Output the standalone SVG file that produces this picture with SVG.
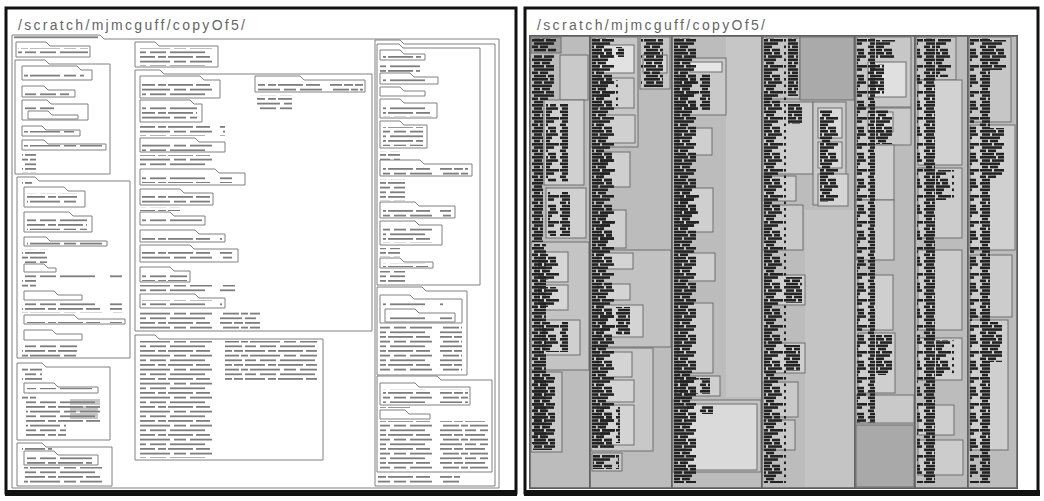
<svg xmlns="http://www.w3.org/2000/svg" width="1044" height="501" viewBox="0 0 1044 501">
<defs>
<filter id="soft" x="-5%" y="-5%" width="110%" height="110%"><feGaussianBlur stdDeviation="0.45"/></filter>
<pattern id="tlp" patternUnits="userSpaceOnUse" width="110" height="14">
<g fill="#7e7e7e">
<rect x="0" y="0" width="12" height="1.8"/><rect x="14" y="0" width="9" height="1.8"/><rect x="25" y="0" width="20" height="1.8"/><rect x="48" y="0" width="8" height="1.8"/><rect x="58" y="0" width="25" height="1.8"/><rect x="86" y="0" width="14" height="1.8"/>
<rect x="3" y="4.7" width="16" height="1.8"/><rect x="21" y="4.7" width="7" height="1.8"/><rect x="30" y="4.7" width="30" height="1.8"/><rect x="64" y="4.7" width="12" height="1.8"/><rect x="80" y="4.7" width="22" height="1.8"/>
<rect x="0" y="9.4" width="22" height="1.8"/><rect x="25" y="9.4" width="11" height="1.8"/><rect x="40" y="9.4" width="16" height="1.8"/><rect x="60" y="9.4" width="35" height="1.8"/>
</g>
</pattern>
<pattern id="tdp" patternUnits="userSpaceOnUse" width="28" height="26">
<g fill="#222">
<rect x="0" y="0" width="16" height="2.6"/><rect x="18" y="0" width="6" height="2.6"/>
<rect x="2" y="3.25" width="8" height="2.6"/><rect x="12" y="3.25" width="14" height="2.6"/>
<rect x="0" y="6.5" width="20" height="2.6"/>
<rect x="2" y="9.75" width="6" height="2.6"/><rect x="10" y="9.75" width="8" height="2.6"/>
<rect x="0" y="13" width="12" height="2.6"/><rect x="14" y="13" width="13" height="2.6"/>
<rect x="2" y="16.25" width="20" height="2.6"/>
<rect x="0" y="19.5" width="6" height="2.6"/><rect x="8" y="19.5" width="8" height="2.6"/>
<rect x="2" y="22.75" width="12" height="2.6"/><rect x="16" y="22.75" width="8" height="2.6"/>
</g>
</pattern>
<style>
.frame{fill:#fff;stroke:#111;stroke-width:3}
.bx{fill:#fff;stroke:#808080;stroke-width:1}
.tl{fill:url(#tlp)}
.title{font-family:"Liberation Sans","DejaVu Sans",sans-serif;font-size:14px;fill:#666}
.col{fill:#bcbcbc;stroke:#5f5f5f;stroke-width:1.5}
.sb{stroke:#6e6e6e;stroke-width:1}
.td{fill:url(#tdp)}
.hl{fill:#c6c6c6}
</style>
</defs>

<g id="left-panel">
<rect class="frame" x="6" y="8" width="510" height="485"/>
<rect x="5" y="490" width="512" height="6" fill="#111"/>
<text class="title" x="18" y="30" textLength="227" lengthAdjust="spacing">/scratch/mjmcguff/copyOf5/</text>

<g filter="url(#soft)">
<g id="root">
<path class="bx" d="M12,488V35H100l4,4H499V488Z"/>
<rect x="14" y="36.4" width="84" height="1.8" fill="#7e7e7e"/>
</g>

<g id="colA">
<path class="bx" d="M16,57V42h30l4,4H90V57Z"/><rect class="tl" x="18" y="48" width="70" height="8"/>
<g id="A2">
<path class="bx" d="M15,174V60h30l4,4H110V174Z"/>
<path class="bx" d="M22,80V66h55l4,4H92V80Z"/><rect class="tl" x="24" y="72" width="60" height="7"/>
<path class="bx" d="M22,97V86h22l4,4H75V97Z"/><rect class="tl" x="24" y="92" width="45" height="4"/>
<path class="bx" d="M22,120V100h25l4,4H88V120Z"/><rect class="tl" x="24" y="106" width="30" height="4"/>
<path class="bx" d="M28,119V111h20l4,4H78V119Z"/>
<path class="bx" d="M22,136V126h20l4,4H80V136Z"/><rect class="tl" x="24" y="131" width="50" height="4"/>
<path class="bx" d="M22,150V140h22l4,4H106V150Z"/><rect class="tl" x="24" y="145" width="78" height="4"/>
<rect class="tl" x="22" y="153" width="14" height="20"/>
</g>
<g id="A3">
<path class="bx" d="M17,358V177h18l4,4H130V358Z"/>
<rect class="tl" x="22" y="182" width="10" height="4"/>
<path class="bx" d="M24,207V187h40l4,4H85V207Z"/><rect class="tl" x="27" y="193" width="50" height="12"/>
<path class="bx" d="M24,232V212h45l4,4H92V232Z"/><rect class="tl" x="27" y="218" width="60" height="12"/>
<path class="bx" d="M24,246V237h22l4,4H107V246Z"/><rect class="tl" x="27" y="242" width="75" height="3"/>
<rect class="tl" x="22" y="249" width="25" height="14"/>
<path class="bx" d="M24,272V264h20l4,4H56V272Z"/>
<rect class="tl" x="22" y="274" width="100" height="4"/><rect class="tl" x="22" y="280" width="14" height="9"/>
<path class="bx" d="M24,300V291h30l4,4H82V300Z"/>
<rect class="tl" x="22" y="303" width="100" height="10"/>
<path class="bx" d="M24,324V315h50l4,4H125V324Z"/><rect class="tl" x="27" y="320" width="95" height="3"/>
<path class="bx" d="M24,340V330h28l4,4H82V340Z"/>
<rect class="tl" x="22" y="343" width="55" height="14"/>
</g>
<g id="A4">
<path class="bx" d="M17,440V363h25l4,4H110V440Z"/>
<rect class="tl" x="22" y="368" width="20" height="14"/>
<path class="bx" d="M24,393V383h30l4,4H98V393Z"/><rect class="tl" x="27" y="388" width="65" height="3"/>
<rect class="hl" x="70" y="399" width="30" height="6"/><rect class="hl" x="70" y="406" width="28" height="6"/><rect class="hl" x="70" y="413" width="28" height="6"/>
<rect class="tl" x="22" y="396" width="14" height="4"/><rect class="tl" x="26" y="401" width="74" height="22"/>
<rect class="tl" x="26" y="424" width="40" height="14"/>
</g>
<g id="A5">
<path class="bx" d="M17,486V443h25l4,4H112V486Z"/>
<rect class="tl" x="22" y="448" width="30" height="3"/>
<path class="bx" d="M24,465V451h30l4,4H98V465Z"/><rect class="tl" x="27" y="456" width="65" height="8"/>
<rect class="tl" x="24" y="467" width="80" height="18"/>
</g>
</g>

<g id="colB">
<g id="B1">
<path class="bx" d="M135,67V42h20l4,4H218V67Z"/><rect class="tl" x="140" y="48" width="75" height="18"/>
</g>
<g id="B2">
<path class="bx" d="M135,331V70h25l4,4H372V331Z"/>
<path class="bx" d="M140,98V76h60l4,4H220V98Z"/><rect class="tl" x="142" y="82" width="75" height="14"/>
<path class="bx" d="M140,122V100h50l4,4H202V122Z"/><rect class="tl" x="142" y="106" width="55" height="14"/>
<rect class="tl" x="140" y="124" width="85" height="12"/>
<path class="bx" d="M140,152V138h55l4,4H225V152Z"/><rect class="tl" x="142" y="144" width="78" height="7"/>
<rect class="tl" x="140" y="155" width="80" height="12"/>
<path class="bx" d="M140,185V169h75l4,4H245V185Z"/><rect class="tl" x="142" y="175" width="90" height="8"/>
<path class="bx" d="M140,205V189h40l4,4H213V205Z"/><rect class="tl" x="142" y="195" width="68" height="8"/>
<rect class="tl" x="140" y="207" width="40" height="4"/>
<path class="bx" d="M140,225V212h30l4,4H205V225Z"/><rect class="tl" x="142" y="218" width="60" height="5"/>
<path class="bx" d="M140,242V230h55l4,4H225V242Z"/><rect class="tl" x="142" y="236" width="80" height="5"/>
<path class="bx" d="M140,262V245h50l4,4H238V262Z"/><rect class="tl" x="142" y="251" width="90" height="9"/>
<path class="bx" d="M140,282V267h30l4,4H190V282Z"/><rect class="tl" x="142" y="273" width="45" height="8"/>
<rect class="tl" x="140" y="285" width="95" height="7"/>
<path class="bx" d="M140,308V294h55l4,4H225V308Z"/><rect class="tl" x="142" y="300" width="80" height="7"/>
<rect class="tl" x="140" y="311" width="120" height="19"/>
<path class="bx" d="M255,92V76h45l4,4H365V92Z"/><rect class="tl" x="258" y="82" width="105" height="9"/>
<rect class="tl" x="257" y="95" width="35" height="17"/>
</g>
<g id="B3">
<path class="bx" d="M135,460V335h20l4,4H323V460Z"/>
<rect class="tl" x="140" y="341" width="78" height="117"/>
<rect class="tl" x="225" y="341" width="92" height="40"/>
</g>
</g>

<g id="colC">
<path class="bx" d="M375,486V40h25l4,4H495V486Z"/>
<g id="C1">
<path class="bx" d="M377,285V44h22l4,4H480V285Z"/>
<path class="bx" d="M380,60V50h20l4,4H425V60Z"/><rect class="tl" x="383" y="55" width="38" height="4"/>
<rect class="tl" x="380" y="63" width="40" height="9"/>
<path class="bx" d="M380,84V73h30l4,4H438V84Z"/><rect class="tl" x="383" y="79" width="52" height="4"/>
<path class="bx" d="M380,96V87h20l4,4H425V96Z"/>
<path class="bx" d="M380,118V99h20l4,4H437V118Z"/><rect class="tl" x="383" y="105" width="50" height="12"/>
<path class="bx" d="M380,148V121h20l4,4H427V148Z"/><rect class="tl" x="383" y="127" width="40" height="19"/>
<rect class="tl" x="380" y="151" width="20" height="9"/>
<path class="bx" d="M380,176V160h40l4,4H472V176Z"/><rect class="tl" x="383" y="166" width="85" height="9"/>
<rect class="tl" x="380" y="179" width="25" height="22"/>
<path class="bx" d="M380,218V202h35l4,4H455V218Z"/><rect class="tl" x="383" y="208" width="68" height="9"/>
<path class="bx" d="M380,245V221h35l4,4H442V245Z"/><rect class="tl" x="383" y="227" width="55" height="16"/>
<rect class="tl" x="380" y="248" width="20" height="9"/>
<path class="bx" d="M380,268V258h20l4,4H433V268Z"/><rect class="tl" x="383" y="263" width="45" height="4"/>
<rect class="tl" x="380" y="271" width="25" height="13"/>
</g>
<g id="C2">
<path class="bx" d="M377,375V287h45l4,4H467V375Z"/>
<path class="bx" d="M380,323V295h30l4,4H462V323Z"/><rect class="tl" x="383" y="301" width="60" height="6"/>
<path class="bx" d="M385,322V309h30l4,4H455V322Z"/><rect class="tl" x="388" y="315" width="64" height="6"/>
<rect class="tl" x="380" y="326" width="82" height="46"/>
</g>
<g id="C3">
<path class="bx" d="M377,472V376h60l4,4H492V472Z"/>
<path class="bx" d="M380,405V383h35l4,4H470V405Z"/><rect class="tl" x="383" y="389" width="85" height="14"/>
<rect class="tl" x="380" y="407" width="30" height="3"/>
<path class="bx" d="M380,419V410h25l4,4H430V419Z"/>
<rect class="tl" x="380" y="421" width="108" height="49"/>
</g>
<rect class="tl" x="378" y="475" width="82" height="10"/>
</g>
</g>
</g>

<g id="right-panel">
<rect class="frame" x="525" y="8" width="513" height="485"/>
<rect x="524" y="490" width="516" height="6" fill="#111"/>
<text class="title" x="537" y="30" textLength="228" lengthAdjust="spacing">/scratch/mjmcguff/copyOf5/</text>
<g filter="url(#soft)">
<rect x="530" y="36" width="487" height="452" fill="#bcbcbc" stroke="#5a5a5a" stroke-width="2"/>

<g id="tm-col1">
<rect class="col" x="530" y="36" width="60" height="452"/>
<rect class="sb" x="531" y="37" width="30" height="16" fill="#a0a0a0"/>
<rect class="sb" x="560" y="55" width="28" height="45" fill="#c9c9c9"/>
<rect class="sb" x="544" y="100" width="40" height="85" fill="#d0d0d0"/>
<rect class="sb" x="546" y="188" width="40" height="50" fill="#d0d0d0"/>
<rect class="sb" x="531" y="242" width="58" height="128" fill="#c4c4c4"/>
<rect class="sb" x="536" y="252" width="32" height="30" fill="#d6d6d6"/>
<rect class="sb" x="536" y="285" width="32" height="25" fill="#d6d6d6"/>
<rect class="sb" x="540" y="320" width="40" height="35" fill="#d0d0d0"/>
<rect class="sb" x="531" y="372" width="31" height="80" fill="#c8c8c8"/>
<rect class="td" x="532" y="38" width="24" height="14"/>
<rect class="td" x="532" y="55" width="22" height="45"/>
<rect class="td" x="532" y="100" width="11" height="142"/>
<rect class="td" x="546" y="104" width="22" height="78"/>
<rect class="td" x="548" y="192" width="22" height="44"/>
<rect class="td" x="532" y="244" width="14" height="200"/>
<rect class="td" x="538" y="254" width="22" height="26"/>
<rect class="td" x="538" y="287" width="22" height="20"/>
<rect class="td" x="542" y="322" width="26" height="30"/>
<rect class="td" x="533" y="374" width="22" height="76"/>
</g>

<g id="tm-col2">
<rect class="col" x="590" y="36" width="82" height="452"/>
<rect class="sb" x="591" y="37" width="47" height="110" fill="#c6c6c6"/>
<rect class="sb" x="598" y="45" width="36" height="28" fill="#e2e2e2"/>
<rect class="sb" x="598" y="78" width="36" height="30" fill="#d0d0d0"/>
<rect class="sb" x="600" y="115" width="35" height="28" fill="#d0d0d0"/>
<rect class="sb" x="640" y="37" width="30" height="52" fill="#c6c6c6"/>
<rect class="sb" x="643" y="55" width="24" height="18" fill="#d8d8d8"/>
<rect class="sb" x="598" y="152" width="32" height="35" fill="#cfcfcf"/>
<rect class="sb" x="598" y="210" width="28" height="38" fill="#cfcfcf"/>
<rect class="sb" x="591" y="250" width="80" height="97" fill="#c2c2c2"/>
<rect class="sb" x="598" y="253" width="35" height="16" fill="#d4d4d4"/>
<rect class="sb" x="598" y="284" width="32" height="16" fill="#d4d4d4"/>
<rect class="sb" x="598" y="305" width="45" height="32" fill="#d4d4d4"/>
<rect class="sb" x="591" y="348" width="62" height="103" fill="#c8c8c8"/>
<rect class="sb" x="598" y="352" width="34" height="25" fill="#d4d4d4"/>
<rect class="sb" x="598" y="380" width="36" height="22" fill="#d4d4d4"/>
<rect class="sb" x="598" y="405" width="36" height="40" fill="#d4d4d4"/>
<rect class="sb" x="592" y="453" width="30" height="18" fill="#c8c8c8"/>
<rect class="td" x="592" y="38" width="22" height="410"/>
<rect class="td" x="600" y="47" width="24" height="10"/>
<rect class="td" x="600" y="80" width="18" height="26"/>
<rect class="td" x="641" y="39" width="22" height="48"/>
<rect class="td" x="600" y="154" width="16" height="30"/>
<rect class="td" x="600" y="212" width="16" height="34"/>
<rect class="td" x="600" y="307" width="30" height="28"/>
<rect class="td" x="600" y="407" width="20" height="36"/>
<rect class="td" x="593" y="455" width="26" height="14"/>
</g>

<g id="tm-col3">
<rect class="col" x="672" y="36" width="90" height="452"/>
<rect x="726" y="37" width="35" height="360" fill="#c6c6c6"/>
<rect class="sb" x="678" y="58" width="48" height="57" fill="#c9c9c9"/>
<rect class="sb" x="690" y="62" width="32" height="10" fill="#e6e6e6"/>
<rect class="sb" x="678" y="128" width="34" height="27" fill="#cfcfcf"/>
<rect class="sb" x="678" y="188" width="35" height="44" fill="#cfcfcf"/>
<rect class="sb" x="678" y="253" width="37" height="28" fill="#cfcfcf"/>
<rect class="sb" x="678" y="303" width="35" height="70" fill="#cccccc"/>
<rect class="sb" x="676" y="376" width="44" height="20" fill="#cfcfcf"/>
<rect class="sb" x="673" y="400" width="88" height="72" fill="#c4c4c4"/>
<rect class="sb" x="685" y="404" width="72" height="66" fill="#dadada"/>
<rect class="td" x="674" y="38" width="22" height="445"/>
<rect class="td" x="680" y="74" width="30" height="36"/>
<rect class="td" x="680" y="190" width="20" height="40"/>
<rect class="td" x="680" y="378" width="30" height="16"/>
<rect class="td" x="687" y="406" width="26" height="8"/>
</g>

<g id="tm-col4">
<rect class="col" x="762" y="36" width="93" height="452"/>
<rect x="805" y="210" width="49" height="277" fill="#c4c4c4"/>
<rect class="sb" x="763" y="37" width="37" height="62" fill="#c4c4c4"/>
<rect class="sb" x="800" y="37" width="54" height="63" fill="#aaaaaa"/>
<rect class="sb" x="763" y="102" width="50" height="72" fill="#cdcdcd"/>
<rect class="sb" x="813" y="102" width="33" height="103" fill="#c9c9c9"/>
<rect class="sb" x="818" y="108" width="24" height="30" fill="#d9d9d9"/>
<rect class="sb" x="818" y="142" width="24" height="26" fill="#d9d9d9"/>
<rect class="sb" x="818" y="174" width="30" height="32" fill="#d4d4d4"/>
<rect class="sb" x="763" y="176" width="33" height="25" fill="#cfcfcf"/>
<rect class="sb" x="763" y="205" width="40" height="45" fill="#c9c9c9"/>
<rect class="sb" x="765" y="275" width="40" height="30" fill="#cfcfcf"/>
<rect class="sb" x="765" y="343" width="40" height="30" fill="#cfcfcf"/>
<rect class="sb" x="763" y="382" width="35" height="35" fill="#c9c9c9"/>
<rect class="sb" x="763" y="420" width="32" height="30" fill="#c9c9c9"/>
<rect class="td" x="764" y="38" width="22" height="445"/>
<rect class="td" x="788" y="38" width="10" height="58"/>
<rect class="td" x="820" y="110" width="18" height="92"/>
<rect class="td" x="788" y="104" width="14" height="20"/>
<rect class="td" x="786" y="277" width="16" height="26"/>
<rect class="td" x="786" y="345" width="14" height="26"/>
</g>

<g id="tm-col5">
<rect class="col" x="855" y="36" width="60" height="452"/>
<rect class="sb" x="856" y="37" width="55" height="70" fill="#c7c7c7"/>
<rect class="sb" x="868" y="62" width="38" height="35" fill="#e0e0e0"/>
<rect class="sb" x="856" y="108" width="55" height="37" fill="#cacaca"/>
<rect class="sb" x="868" y="112" width="25" height="20" fill="#dadada"/>
<rect class="sb" x="856" y="145" width="38" height="55" fill="#cfcfcf"/>
<rect class="sb" x="856" y="200" width="38" height="60" fill="#cccccc"/>
<rect class="sb" x="858" y="275" width="35" height="55" fill="#cfcfcf"/>
<rect class="sb" x="858" y="333" width="37" height="60" fill="#cfcfcf"/>
<rect class="sb" x="856" y="395" width="58" height="28" fill="#c9c9c9"/>
<rect class="sb" x="856" y="425" width="58" height="62" fill="#a9a9a9"/>
<rect class="td" x="857" y="38" width="18" height="385"/>
<rect class="td" x="876" y="40" width="20" height="18"/>
<rect class="td" x="870" y="64" width="14" height="30"/>
<rect class="td" x="876" y="110" width="16" height="34"/>
<rect class="td" x="876" y="335" width="16" height="40"/>
</g>

<g id="tm-col6">
<rect class="col" x="915" y="36" width="53" height="452"/>
<rect class="sb" x="916" y="37" width="40" height="43" fill="#c6c6c6"/>
<rect class="sb" x="918" y="80" width="44" height="85" fill="#d2d2d2"/>
<rect class="sb" x="918" y="168" width="44" height="70" fill="#cccccc"/>
<rect class="sb" x="918" y="250" width="44" height="80" fill="#cccccc"/>
<rect class="sb" x="918" y="338" width="44" height="42" fill="#cfcfcf"/>
<rect class="sb" x="918" y="405" width="36" height="30" fill="#cfcfcf"/>
<rect class="sb" x="918" y="440" width="45" height="35" fill="#cccccc"/>
<rect class="td" x="917" y="38" width="18" height="445"/>
<rect class="td" x="936" y="39" width="16" height="38"/>
<rect class="td" x="936" y="170" width="18" height="30"/>
<rect class="td" x="936" y="340" width="18" height="36"/>
</g>

<g id="tm-col7">
<rect class="col" x="968" y="36" width="49" height="452"/>
<rect class="sb" x="969" y="37" width="42" height="85" fill="#c6c6c6"/>
<rect class="sb" x="970" y="125" width="45" height="125" fill="#d0d0d0"/>
<rect class="sb" x="970" y="255" width="42" height="62" fill="#cccccc"/>
<rect class="sb" x="970" y="320" width="38" height="130" fill="#cfcfcf"/>
<rect class="td" x="970" y="38" width="20" height="445"/>
<rect class="td" x="990" y="40" width="16" height="30"/>
<rect class="td" x="990" y="128" width="14" height="50"/>
<rect class="td" x="990" y="322" width="12" height="40"/>
</g>
</g>
</g>
</svg>
